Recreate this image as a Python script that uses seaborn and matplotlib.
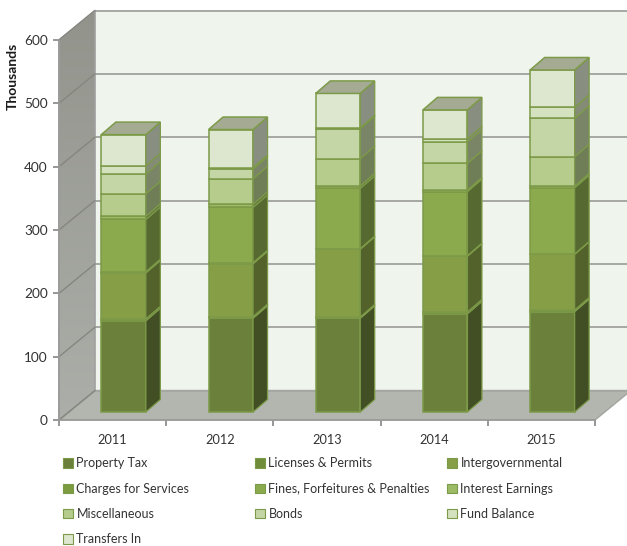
import numpy as np
import pandas as pd
import seaborn as sns
import matplotlib
matplotlib.use("Agg")
import matplotlib.pyplot as plt
from matplotlib.colors import LinearSegmentedColormap, to_rgb
from matplotlib.patches import Patch, Polygon
from matplotlib.transforms import Affine2D

# values (thousands)
years = ["2011", "2012", "2013", "2014", "2015"]
property_tax = [144, 148, 148, 155, 158.5]
licenses = [3, 2.5, 2, 3, 2.5]
intergov = [72.5, 83.5, 107, 88, 88]
charges = [2, 1.7, 1, 1, 0.5]
fines = [82.5, 87.3, 95, 101, 104.5]
interest = [5, 5, 4, 2.5, 3]
misc = [35.6, 40.4, 43, 42.2, 46]
bonds = [30.8, 15.3, 47.5, 33.3, 60.7]
fund_balance = [13.6, 2.3, 1.5, 5.5, 17.3]
transfers = [49, 60, 54, 45.5, 59]

names = ["Property Tax", "Licenses & Permits", "Intergovernmental",
         "Charges for Services", "Fines, Forfeitures & Penalties",
         "Interest Earnings", "Miscellaneous", "Bonds", "Fund Balance",
         "Transfers In"]
series = [property_tax, licenses, intergov, charges, fines,
          interest, misc, bonds, fund_balance, transfers]
colors = ["#6b803a", "#6f8c3a", "#869e46", "#7d9c40", "#8baa4e",
          "#9dbb66", "#b5cc8c", "#c5d6a6", "#d5e2bf", "#dde6cf"]

sns.set_theme(style="white")
plt.rcParams["font.family"] = ["Lato", "DejaVu Sans"]

W, H = 627, 546
fig = plt.figure(figsize=(W / 100, H / 100), dpi=100)

# background axes works in plain pixels, bottom left origin
bg = fig.add_axes([0, 0, 1, 1], zorder=0)
bg.set_xlim(0, W)
bg.set_ylim(0, H)
bg.axis("off")

ax = fig.add_axes([59 / W, 126 / H, 536 / W, 380 / H], zorder=1)
ax.patch.set_alpha(0)

edge = "#7c9a48"
front_shift = (11, 8)     # bars stand forward of the front axis line
bar_depth = (14.5, 12.5)
wall_depth = (36, 29.5)

shift = Affine2D().translate(*front_shift)
bottom = np.zeros(len(years))
for name, vals, col in zip(names, series, colors):
    df = pd.DataFrame({"year": years, "value": vals})
    sns.barplot(data=df, x="year", y="value", color=col, saturation=1,
                width=0.415, bottom=bottom, edgecolor=edge, linewidth=1.1,
                errorbar=None, ax=ax)
    bottom = bottom + np.array(vals)

ax.set_xlim(-0.5, 4.5)
ax.set_ylim(0, 600)
ax.set_xlabel("")
ax.set_ylabel("")

# axis ticks: marks between the years, labels centred
ax.set_xticks(np.arange(-0.5, 5, 1))
ax.set_xticklabels([])
ax.set_xticks(np.arange(5), labels=years, minor=True)
ax.tick_params(axis="x", which="major", length=4, color="#8a8a8a", bottom=True)
ax.tick_params(axis="x", which="minor", length=0, labelsize=9.2, pad=10,
               labelcolor="#333333")
ax.set_yticks(np.arange(0, 700, 100))
ax.tick_params(axis="y", length=4, color="#8a8a8a", left=True, labelsize=9.8,
               pad=4, labelcolor="#333333")
for s in ["top", "right"]:
    ax.spines[s].set_visible(False)
for s in ["left", "bottom"]:
    ax.spines[s].set_color("#9a9a9a")
    ax.spines[s].set_linewidth(1.2)

# 3d look: walls and floor on the background axes
dx, dy = wall_depth
x0, y0 = ax.transData.transform((-0.5, 0))
x1, y1 = ax.transData.transform((4.5, 600))

grad = LinearSegmentedColormap.from_list("wall", ["#92948c", "#acaea9"])
wall = Polygon([(x0, y0), (x0 + dx, y0 + dy), (x0 + dx, y1 + dy), (x0, y1)],
               closed=True, fc="none", ec="#a0a0a0", lw=1.2, zorder=3)
bg.add_patch(wall)
im = bg.imshow(np.linspace(0, 1, 256).reshape(-1, 1), cmap=grad, aspect="auto",
               extent=(x0, x0 + dx, y0, y1 + dy), origin="upper", zorder=1)
im.set_clip_path(wall)
bg.set_xlim(0, W)
bg.set_ylim(0, H)
bg.add_patch(Polygon([(x0 + dx, y0 + dy), (x1 + dx, y0 + dy), (x1 + dx, y1 + dy),
                      (x0 + dx, y1 + dy)], closed=True, fc="#eff4ec", ec="none",
                     zorder=1))
bg.add_patch(Polygon([(x0, y0), (x1, y0), (x1 + dx, y0 + dy), (x0 + dx, y0 + dy)],
                     closed=True, fc="#b2b6ae", ec="#a3a5a0", lw=1, zorder=2))
for tick in ax.get_yticks():
    _, yy = ax.transData.transform((0, tick))
    bg.plot([x0 + dx, x1 + dx], [yy + dy, yy + dy], color="#a6a8a3", lw=1.4, zorder=2)
    bg.plot([x0, x0 + dx], [yy, yy + dy], color="#85877f", lw=1, zorder=4)

# side and top faces of every bar, worked out from the seaborn patches
bx, by = bar_depth
n_years = len(years)
for i, patch in enumerate(list(ax.patches)):
    x = patch.get_x()
    wid = patch.get_width()
    y = patch.get_y()
    hei = patch.get_height()
    col = colors[i // n_years]
    patch.set_transform(ax.transData + shift)
    patch.set_clip_on(False)
    (px0, py0) = ax.transData.transform((x, y)) + front_shift
    (px1, py1) = ax.transData.transform((x + wid, y + hei)) + front_shift
    side_col = tuple(c * 0.62 for c in to_rgb(col))
    ax.add_patch(Polygon([(px1, py0), (px1 + bx, py0 + by), (px1 + bx, py1 + by), (px1, py1)],
                         closed=True, fc=side_col, ec=edge, lw=0.9, zorder=2,
                         transform=None, clip_on=False))
    if i // n_years == len(series) - 1:
        ax.add_patch(Polygon([(px0, py1), (px1, py1), (px1 + bx, py1 + by), (px0 + bx, py1 + by)],
                             closed=True, fc="#a5ab93", ec=edge, lw=1.1, zorder=2,
                             transform=None, clip_on=False))

fig.text(13 / W, 1 - 76 / H, "Thousands", rotation=90, ha="center", va="center",
         fontsize=10, fontweight="bold", color="#1a1a1a")

# one legend per column, the columns sit at fixed distances in the reference
legend_cols = [[0, 3, 6, 9], [1, 4, 7], [2, 5, 8]]
legend_x = [52, 244, 436]
for idx, lx in zip(legend_cols, legend_x):
    handles = [Patch(fc=colors[i], ec=edge, lw=0.8, label=names[i]) for i in idx]
    fig.legend(handles=handles, loc="upper left", bbox_to_anchor=(lx / W, 1 - 446 / H),
               frameon=False, fontsize=9, handlelength=0.8, handleheight=0.8,
               handletextpad=0.25, labelspacing=1.07, labelcolor="#333333")

fig.savefig("out.png", dpi=100)
